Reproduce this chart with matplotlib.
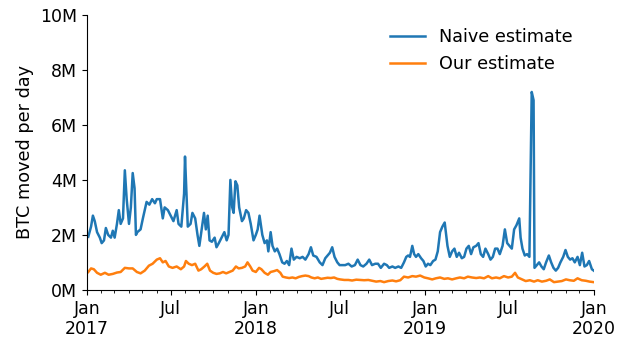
import matplotlib
matplotlib.use("Agg")
import matplotlib.pyplot as plt
import matplotlib.dates as mdates
import matplotlib.ticker as mticker
import numpy as np

# DATA (days since 2017-01-01, values in millions of BTC)
naive_days = [3, 9, 13, 17, 22, 28, 32, 37, 41, 46, 52, 56, 60, 65, 69, 73, 78, 82, 86, 91,
              95, 99, 103, 106, 109, 116, 121, 125, 129, 135, 141, 147, 151, 158, 164, 168,
              175, 181, 187, 194, 198, 204, 210, 212, 216, 218, 224, 228, 234, 239, 243, 248,
              253, 257, 261, 265, 270, 276, 280, 285, 291, 297, 302, 306, 310, 314, 317, 321,
              325, 329, 335, 339, 344, 349, 354, 360, 365, 369, 373, 379, 384, 389, 392, 397,
              401, 406, 411, 416, 422, 427, 432, 437, 442, 447, 453, 460, 466, 472, 479, 484,
              489, 496, 503, 509, 515, 520, 525, 530, 535, 541, 546, 552, 558, 565, 572, 579,
              585, 591, 597, 604, 610, 616, 623, 629, 635, 642, 648, 653, 660, 666, 673, 679,
              685, 690, 694, 698, 703, 707, 711, 716, 722, 727, 732, 737, 742, 748, 753, 758,
              763, 768, 773, 779, 784, 789, 794, 799, 804, 810, 815, 820, 825, 830, 835, 841,
              846, 851, 856, 861, 867, 872, 877, 882, 887, 892, 898, 903, 908, 913, 918, 923,
              928, 934, 937, 941, 946, 951, 956, 961, 965, 967, 972, 977, 982, 987, 992, 998,
              1003, 1008, 1013, 1018, 1023, 1029, 1034, 1039, 1044, 1049, 1054, 1060, 1065,
              1070, 1075, 1080, 1085, 1091, 1095]
naive_vals = [1.93, 2.3, 2.7, 2.5, 2.1, 1.9, 1.7, 1.8, 2.25, 2.0, 1.9, 2.15, 1.9, 2.4, 2.9, 2.4,
              2.6, 4.35, 3.3, 2.4, 3.0, 4.25, 3.7, 2.0, 2.1, 2.2, 2.6, 2.9, 3.2, 3.1, 3.3, 3.15,
              3.3, 3.3, 2.6, 3.0, 2.9, 2.7, 2.5, 2.9, 2.4, 2.3, 3.5, 4.85, 3.2, 2.3, 2.4, 2.8,
              2.6, 2.0, 1.6, 2.2, 2.8, 2.2, 2.7, 1.8, 1.75, 1.9, 1.55, 1.7, 1.9, 2.1, 1.8, 2.0,
              4.0, 3.0, 2.8, 3.95, 3.8, 3.0, 2.5, 2.6, 2.9, 2.8, 2.4, 1.8, 2.0, 2.2, 2.7, 2.0,
              1.7, 1.8, 1.4, 2.1, 1.6, 1.4, 1.5, 1.3, 1.0, 0.95, 1.05, 0.9, 1.5, 1.1, 1.2, 1.15,
              1.2, 1.1, 1.3, 1.55, 1.25, 1.2, 1.0, 0.9, 1.15, 1.25, 1.35, 1.55, 1.2, 1.0, 0.9,
              0.9, 0.9, 0.95, 0.85, 0.9, 1.1, 0.9, 0.85, 0.95, 1.1, 0.9, 0.95, 0.95, 0.8, 0.95,
              0.9, 0.8, 0.85, 0.8, 0.85, 0.8, 1.0, 1.2, 1.25, 1.2, 1.6, 1.3, 1.2, 1.3, 1.15,
              1.05, 0.85, 0.95, 0.9, 1.05, 1.1, 1.4, 2.1, 2.3, 2.45, 1.6, 1.2, 1.4, 1.5, 1.2,
              1.35, 1.15, 1.2, 1.5, 1.6, 1.3, 1.55, 1.6, 1.7, 1.3, 1.2, 1.5, 1.3, 1.1, 1.2, 1.5,
              1.5, 1.3, 1.6, 2.2, 1.7, 1.6, 1.5, 2.2, 2.35, 2.6, 1.9, 1.5, 1.25, 1.3, 1.2, 7.2,
              6.9, 0.8, 0.9, 1.0, 0.85, 0.75, 1.0, 1.25, 1.0, 0.8, 0.7, 0.8, 1.0, 1.2, 1.45,
              1.2, 1.1, 1.15, 1.0, 1.2, 0.9, 1.35, 0.85, 0.9, 1.05, 0.75, 0.7]

ours_days = [3, 9, 15, 22, 30, 39, 47, 56, 65, 73, 82, 91, 99, 108, 116, 125, 134, 142, 151,
             158, 164, 170, 177, 185, 194, 203, 210, 214, 220, 227, 234, 241, 247, 254, 260,
             266, 273, 280, 287, 294, 301, 308, 315, 322, 328, 335, 342, 347, 353, 358, 365,
             372, 377, 384, 391, 397, 404, 411, 418, 423, 430, 437, 444, 451, 458, 465, 472,
             479, 485, 492, 499, 506, 513, 520, 527, 534, 541, 547, 556, 565, 573, 582, 591,
             599, 608, 616, 625, 634, 642, 651, 660, 668, 677, 685, 694, 703, 711, 720, 729,
             737, 746, 754, 763, 772, 780, 789, 798, 806, 815, 823, 832, 841, 849, 858, 867,
             875, 884, 892, 901, 910, 918, 925, 931, 940, 948, 957, 966, 974, 983, 992, 1000,
             1009, 1017, 1026, 1035, 1043, 1052, 1060, 1069, 1078, 1086, 1095]
ours_vals = [0.65, 0.78, 0.75, 0.62, 0.55, 0.62, 0.55, 0.58, 0.63, 0.65, 0.8, 0.78, 0.78, 0.65,
             0.6, 0.7, 0.88, 0.95, 1.1, 1.15, 1.0, 1.05, 0.85, 0.8, 0.85, 0.75, 0.85, 1.05,
             0.95, 0.9, 0.95, 0.7, 0.75, 0.85, 0.95, 0.7, 0.62, 0.58, 0.6, 0.65, 0.6, 0.65,
             0.7, 0.85, 0.78, 0.8, 0.85, 1.0, 0.85, 0.7, 0.65, 0.8, 0.75, 0.62, 0.55, 0.65,
             0.68, 0.72, 0.62, 0.48, 0.45, 0.43, 0.45, 0.42, 0.47, 0.5, 0.52, 0.5, 0.45, 0.42,
             0.45, 0.4, 0.42, 0.44, 0.43, 0.45, 0.4, 0.38, 0.36, 0.36, 0.34, 0.37, 0.36, 0.35,
             0.36, 0.33, 0.3, 0.32, 0.28, 0.32, 0.34, 0.31, 0.35, 0.48, 0.45, 0.5, 0.48, 0.52,
             0.45, 0.42, 0.38, 0.42, 0.45, 0.4, 0.42, 0.38, 0.42, 0.45, 0.42, 0.48, 0.45, 0.43,
             0.45, 0.42, 0.5, 0.42, 0.45, 0.42, 0.5, 0.45, 0.48, 0.62, 0.45, 0.38, 0.32, 0.35,
             0.3, 0.35, 0.3, 0.33, 0.38, 0.28, 0.3, 0.32, 0.38, 0.35, 0.33, 0.42, 0.35, 0.33,
             0.3, 0.28]

start = np.datetime64("2017-01-01")
naive_dates = start + np.array(naive_days, dtype="timedelta64[D]")
ours_dates = start + np.array(ours_days, dtype="timedelta64[D]")

# PLOTTING
plt.rcParams["font.family"] = "DejaVu Sans"
fig = plt.figure(figsize=(6.25, 3.41), dpi=100)
ax = fig.add_axes([0.139, 0.150, 0.811, 0.806])
ax.plot(naive_dates, np.array(naive_vals) * 1e6, color="#1f77b4", lw=1.8, label="Naive estimate")
ax.plot(ours_dates, np.array(ours_vals) * 1e6, color="#ff7f0e", lw=1.8, label="Our estimate")

ax.set_xlim(np.datetime64("2017-01-01"), np.datetime64("2020-01-01"))
ax.set_ylim(0, 10e6)
ax.set_yticks(np.arange(0, 10.1e6, 2e6))
ax.yaxis.set_major_formatter(mticker.FuncFormatter(lambda v, p: "%dM" % round(v / 1e6)))

ax.xaxis.set_major_locator(mdates.MonthLocator(bymonth=[1, 7]))
ax.xaxis.set_minor_locator(mdates.MonthLocator())

def fmt_date(v, p):
    d = mdates.num2date(v)
    if d.month == 1:
        return "Jan\n%d" % d.year
    return "Jul"

ax.xaxis.set_major_formatter(mticker.FuncFormatter(fmt_date))
ax.tick_params(labelsize=12.5)
ax.set_ylabel("BTC moved per day", fontsize=12.7)

ax.spines["top"].set_visible(False)
ax.spines["right"].set_visible(False)
ax.legend(frameon=False, fontsize=12.7, loc="upper right", bbox_to_anchor=(0.99, 1.01))

# SAVING PNG
fig.savefig("out.png", dpi=100)
